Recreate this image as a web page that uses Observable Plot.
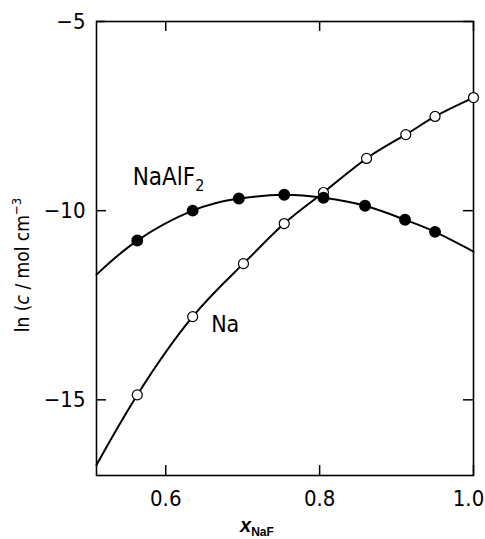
<!DOCTYPE html>
<html>
<head>
<meta charset="utf-8">
<script src="https://cdn.jsdelivr.net/npm/d3@7"></script>
<script src="https://cdn.jsdelivr.net/npm/@observablehq/plot@0.6"></script>
<style>
  html, body { margin: 0; padding: 0; background: #fff; }
  #chart svg { display: block; }
</style>
</head>
<body>
<div id="chart"></div>
<script>
// ---- data ----
const xNaF = [0.563, 0.635, 0.701, 0.754, 0.805, 0.861, 0.912, 0.950, 1.000];
const lnNa = [-14.87, -12.80, -11.40, -10.34, -9.52, -8.62, -7.99, -7.51, -7.01];

const xNaAlF2 = [0.563, 0.635, 0.695, 0.754, 0.805, 0.859, 0.911, 0.950];
const lnNaAlF2 = [-10.79, -10.00, -9.68, -9.58, -9.66, -9.87, -10.24, -10.56];

// fitted curves extend to the frame edges
const naCurveEnds = [[0.51, -16.72], [1.0, -7.01]];
const naAlF2CurveEnds = [[0.51, -11.69], [1.0, -11.08]];

const xTicks = [0.6, 0.8, 1.0];
const yTicks = [-5, -10, -15];
const xDomain = [0.51, 1.0];
const yDomain = [-17, -5];

// label anchors (data units)
const labels = [
  {x: 0.557, y: -9.13, text: "NaAlF", size: 24},
  {x: 0.659, y: -13.02, text: "Na", size: 23}
];
const subscript = "2";

// ---- build tables ----
const naPts = xNaF.map((x, i) => ({x, y: lnNa[i]}));
const alPts = xNaAlF2.map((x, i) => ({x, y: lnNaAlF2[i]}));
const naCurve = [
  {x: naCurveEnds[0][0], y: naCurveEnds[0][1]},
  ...naPts.filter(d => d.x < naCurveEnds[1][0]),
  {x: naCurveEnds[1][0], y: naCurveEnds[1][1]}
];
const alCurve = [
  {x: naAlF2CurveEnds[0][0], y: naAlF2CurveEnds[0][1]},
  ...alPts,
  {x: naAlF2CurveEnds[1][0], y: naAlF2CurveEnds[1][1]}
];

const W = 485, H = 539;
const mL = 96, mR = 12, mT = 21, mB = 64;
const innerW = W - mL - mR, innerH = H - mT - mB;
const TL = 10;
const FONT = "'DejaVu Sans Condensed', 'Liberation Sans Narrow', 'Liberation Sans', Arial, sans-serif";
const fmt = d3.format(".1f");

const chart = Plot.plot({
  width: W,
  height: H,
  marginLeft: mL,
  marginRight: mR,
  marginTop: mT,
  marginBottom: mB,
  style: {fontFamily: FONT, background: "#fff", color: "#000", fontStretch: "condensed"},
  x: {domain: xDomain},
  y: {domain: yDomain},
  marks: [
    Plot.frame({stroke: "#000", strokeWidth: 1.6}),
    Plot.axisX(xTicks.slice(0, -1), {tickSize: 0, tickPadding: 15, tickFormat: fmt, fontSize: 22, label: null}),
    Plot.axisX(xTicks.slice(-1), {tickSize: 0, tickPadding: 15, tickFormat: fmt, fontSize: 22, label: null, dx: -5}),
    Plot.axisY(yTicks, {tickSize: 0, tickPadding: 11, fontSize: 22, label: null}),
    Plot.tickX(xTicks, {x: d => d, insetTop: innerH - TL, stroke: "#000", strokeWidth: 1.5}),
    Plot.tickX(xTicks, {x: d => d, insetBottom: innerH - TL, stroke: "#000", strokeWidth: 1.5}),
    Plot.tickY(yTicks, {y: d => d, insetRight: innerW - TL, stroke: "#000", strokeWidth: 1.5}),
    Plot.tickY(yTicks, {y: d => d, insetLeft: innerW - TL, stroke: "#000", strokeWidth: 1.5}),
    Plot.line(naCurve, {x: "x", y: "y", curve: "natural", stroke: "#000", strokeWidth: 2}),
    Plot.line(alCurve, {x: "x", y: "y", curve: "natural", stroke: "#000", strokeWidth: 2}),
    Plot.dot(naPts, {x: "x", y: "y", r: 5, fill: "#fff", stroke: "#000", strokeWidth: 1.2}),
    Plot.dot(alPts, {x: "x", y: "y", r: 5.2, fill: "#000", stroke: "#000"}),
    Plot.text(labels, {x: "x", y: "y", text: "text", fontSize: "size", textAnchor: "start", lineAnchor: "middle", fill: "#000"})
  ]
});

document.getElementById("chart").appendChild(chart);

const svg = d3.select(chart);
// subscript on NaAlF2 label
svg.selectAll("text").filter(function() { return this.textContent === "NaAlF"; })
  .append("tspan").attr("font-size", 16).attr("dy", "0.35em").text(subscript);

const yl = svg.append("text")
  .attr("transform", `translate(29, 265) rotate(-90)`)
  .attr("text-anchor", "middle")
  .attr("font-family", FONT)
  .attr("font-size", 19)
  .attr("fill", "#000");
yl.append("tspan").text("ln (");
yl.append("tspan").attr("font-style", "italic").text("c");
yl.append("tspan").text(" / mol cm");
yl.append("tspan").attr("font-size", 13).attr("dy", "-0.6em").text("\u22123");

const xl = svg.append("text")
  .attr("x", 240)
  .attr("y", 532)
  .attr("text-anchor", "start")
  .attr("font-family", "'Liberation Sans', Arial, sans-serif")
  .attr("fill", "#000");
xl.append("tspan").attr("font-size", 20).attr("font-style", "italic").attr("font-weight", "bold").text("x");
xl.append("tspan").attr("font-size", 12).attr("font-weight", "bold").attr("dy", "4").text("NaF");
</script>
</body>
</html>
